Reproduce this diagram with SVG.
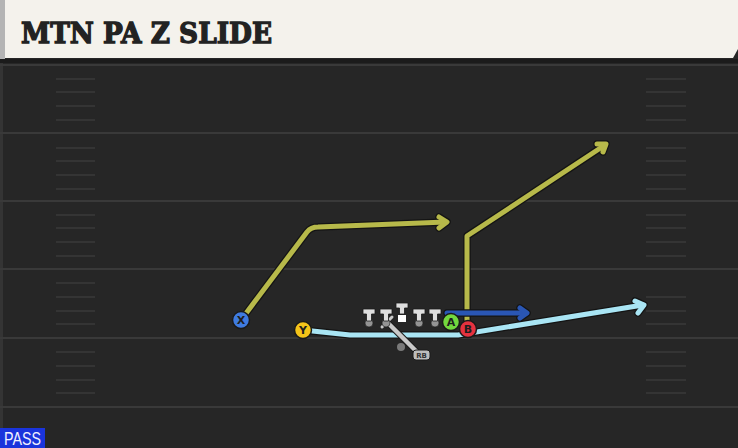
<svg xmlns="http://www.w3.org/2000/svg" width="738" height="448" viewBox="0 0 738 448">
<defs>
<style>
.major{stroke:#393939;stroke-width:2}
.hash{stroke:#3a3a3a;stroke-width:1.6}
.outline{fill:none;stroke:#141414;stroke-width:7.5;stroke-linejoin:round;stroke-linecap:round}
.olive{fill:none;stroke:#b7b94a;stroke-width:5;stroke-linejoin:round;stroke-linecap:round}
.sky{fill:none;stroke:#a9e5f4;stroke-width:5;stroke-linejoin:round;stroke-linecap:round}
.navy{fill:none;stroke:#2a56b4;stroke-width:5;stroke-linejoin:round;stroke-linecap:round}
.player{stroke:#1a1a1a;stroke-width:1.5}
.lbl{font-family:"DejaVu Sans",sans-serif;font-weight:bold;font-size:11px;fill:#1e1e1e;text-anchor:middle}
.tee{fill:#dedede;stroke:#1a1a1a;stroke-width:0.8}
.dot{fill:#949494;stroke:#1a1a1a;stroke-width:0.6}
</style>
</defs>
<rect width="738" height="448" fill="#262626"/>
<rect x="0" y="59" width="3" height="389" fill="#343434"/>
<rect x="0" y="59" width="738" height="4" fill="#1b1b1b"/>
<g id="field">
<line class="major" x1="0" y1="65" x2="738" y2="65"/>
<line class="major" x1="0" y1="133" x2="738" y2="133"/>
<line class="major" x1="0" y1="201" x2="738" y2="201"/>
<line class="major" x1="0" y1="269" x2="738" y2="269"/>
<line class="major" x1="0" y1="338" x2="738" y2="338"/>
<line class="major" x1="0" y1="407" x2="738" y2="407"/>
<g id="hashes-left">
<line class="hash" x1="56" y1="79" x2="95" y2="79"/><line class="hash" x1="56" y1="92" x2="95" y2="92"/><line class="hash" x1="56" y1="106" x2="95" y2="106"/><line class="hash" x1="56" y1="120" x2="95" y2="120"/>
<line class="hash" x1="56" y1="148" x2="95" y2="148"/><line class="hash" x1="56" y1="161" x2="95" y2="161"/><line class="hash" x1="56" y1="175" x2="95" y2="175"/><line class="hash" x1="56" y1="189" x2="95" y2="189"/>
<line class="hash" x1="56" y1="215" x2="95" y2="215"/><line class="hash" x1="56" y1="228" x2="95" y2="228"/><line class="hash" x1="56" y1="242" x2="95" y2="242"/><line class="hash" x1="56" y1="256" x2="95" y2="256"/>
<line class="hash" x1="56" y1="283" x2="95" y2="283"/><line class="hash" x1="56" y1="297" x2="95" y2="297"/><line class="hash" x1="56" y1="311" x2="95" y2="311"/><line class="hash" x1="56" y1="324" x2="95" y2="324"/>
<line class="hash" x1="56" y1="352" x2="95" y2="352"/><line class="hash" x1="56" y1="366" x2="95" y2="366"/><line class="hash" x1="56" y1="380" x2="95" y2="380"/><line class="hash" x1="56" y1="393" x2="95" y2="393"/>
</g>
<g id="hashes-right">
<line class="hash" x1="646" y1="79" x2="686" y2="79"/><line class="hash" x1="646" y1="92" x2="686" y2="92"/><line class="hash" x1="646" y1="106" x2="686" y2="106"/><line class="hash" x1="646" y1="120" x2="686" y2="120"/>
<line class="hash" x1="646" y1="148" x2="686" y2="148"/><line class="hash" x1="646" y1="161" x2="686" y2="161"/><line class="hash" x1="646" y1="175" x2="686" y2="175"/><line class="hash" x1="646" y1="189" x2="686" y2="189"/>
<line class="hash" x1="646" y1="215" x2="686" y2="215"/><line class="hash" x1="646" y1="228" x2="686" y2="228"/><line class="hash" x1="646" y1="242" x2="686" y2="242"/><line class="hash" x1="646" y1="256" x2="686" y2="256"/>
<line class="hash" x1="646" y1="297" x2="686" y2="297"/><line class="hash" x1="646" y1="311" x2="686" y2="311"/><line class="hash" x1="646" y1="324" x2="686" y2="324"/>
<line class="hash" x1="646" y1="352" x2="686" y2="352"/><line class="hash" x1="646" y1="366" x2="686" y2="366"/><line class="hash" x1="646" y1="380" x2="686" y2="380"/><line class="hash" x1="646" y1="393" x2="686" y2="393"/>
</g>
</g>
<g id="title">
<rect x="0" y="0" width="5" height="59" fill="#b4b4b4"/>
<polygon points="5,0 738,0 738,49 733,58 5,58" fill="#f4f2ec"/>
<text x="21" y="43" font-family="'DejaVu Serif',serif" font-weight="bold" font-size="28" fill="#222" stroke="#222" stroke-width="1.3" stroke-linejoin="miter" textLength="251" lengthAdjust="spacingAndGlyphs">MTN PA Z SLIDE</text>
</g>
<g id="connectors">
<g id="route-y">
<polyline class="outline" points="303,330 350,335 458,335 643,305"/>
<polyline class="outline" points="635,301 644,305 638,313"/>
<polyline class="sky" points="303,330 350,335 458,335 643,305"/>
<polyline class="sky" points="635,301 644,305 638,313"/>
</g>
<g id="route-x">
<path class="outline" d="M241,320 L307,232 Q311,227 318,227 L446,222"/>
<polyline class="outline" points="439,217 447,222 439,228"/>
<path class="olive" d="M241,320 L307,232 Q311,227 318,227 L446,222"/>
<polyline class="olive" points="439,217 447,222 439,228"/>
</g>
<g id="route-b">
<polyline class="outline" points="467,329 467,236 605,145"/>
<polyline class="outline" points="597,144 606,144 603,152"/>
<polyline class="olive" points="467,329 467,236 605,145"/>
<polyline class="olive" points="597,144 606,144 603,152"/>
</g>
<g id="route-a">
<polyline class="outline" points="447,313 526,313" stroke-width="6.5"/>
<polyline class="outline" points="520,308 527,313 520,318" stroke-width="6.5"/>
<polyline class="navy" points="447,313 526,313"/>
<polyline class="navy" points="520,308 527,313 520,318"/>
</g>
<g id="rb-path">
<line x1="386" y1="321" x2="416" y2="351" stroke="#1a1a1a" stroke-width="6.5" stroke-linecap="round"/>
<line x1="386" y1="321" x2="416" y2="351" stroke="#c9c9c9" stroke-width="4.5" stroke-linecap="round"/>
<line x1="382" y1="327" x2="392" y2="317" stroke="#c9c9c9" stroke-width="3" stroke-linecap="round"/>
</g>
</g>
<g id="line-T1"><circle class="dot" cx="369" cy="323" r="4"/><path class="tee" d="M363,309 h12 v5 h-3.5 v7 h-5 v-7 h-3.5 z"/></g>
<g id="line-T2"><circle class="dot" cx="386" cy="323" r="4"/><path class="tee" d="M380,309 h12 v5 h-3.5 v7 h-5 v-7 h-3.5 z"/></g>
<g id="line-C"><path class="tee" d="M396,303 h12 v5 h-3.5 v6 h-5 v-6 h-3.5 z"/><rect x="398" y="315" width="8" height="7" fill="#ffffff"/></g>
<g id="line-T4"><circle class="dot" cx="419" cy="323" r="4"/><path class="tee" d="M413,309 h12 v5 h-3.5 v7 h-5 v-7 h-3.5 z"/></g>
<g id="line-T5"><circle class="dot" cx="435" cy="323" r="4"/><path class="tee" d="M429,309 h12 v5 h-3.5 v7 h-5 v-7 h-3.5 z"/></g>
<g id="rb">
<circle cx="401" cy="347" r="4" fill="#7a7a7a"/>
<rect x="413" y="350" width="17" height="10" rx="3" fill="#bdbdbd" stroke="#1a1a1a" stroke-width="1"/>
<text x="421.5" y="358" font-family="'DejaVu Sans',sans-serif" font-weight="bold" font-size="7" fill="#333" text-anchor="middle">RB</text>
</g>
<g id="X"><circle class="player" cx="241" cy="320" r="8.5" fill="#3f7be0"/><text class="lbl" x="241" y="324">X</text></g>
<g id="Y"><circle class="player" cx="303" cy="330" r="8.5" fill="#f4c419"/><text class="lbl" x="303" y="334">Y</text></g>
<g id="A"><circle class="player" cx="451" cy="322" r="8.5" fill="#72d83e"/><text class="lbl" x="451" y="326">A</text></g>
<g id="B"><circle class="player" cx="468" cy="329" r="8.5" fill="#e5323f"/><text class="lbl" x="468" y="333">B</text></g>
<g id="pass-tag">
<rect x="0" y="428" width="45" height="20" fill="#1a34dc"/>
<text x="4" y="445" font-family="'Liberation Sans',sans-serif" font-size="17.5" fill="#f0f0ff" textLength="37" lengthAdjust="spacingAndGlyphs">PASS</text>
</g>
</svg>
